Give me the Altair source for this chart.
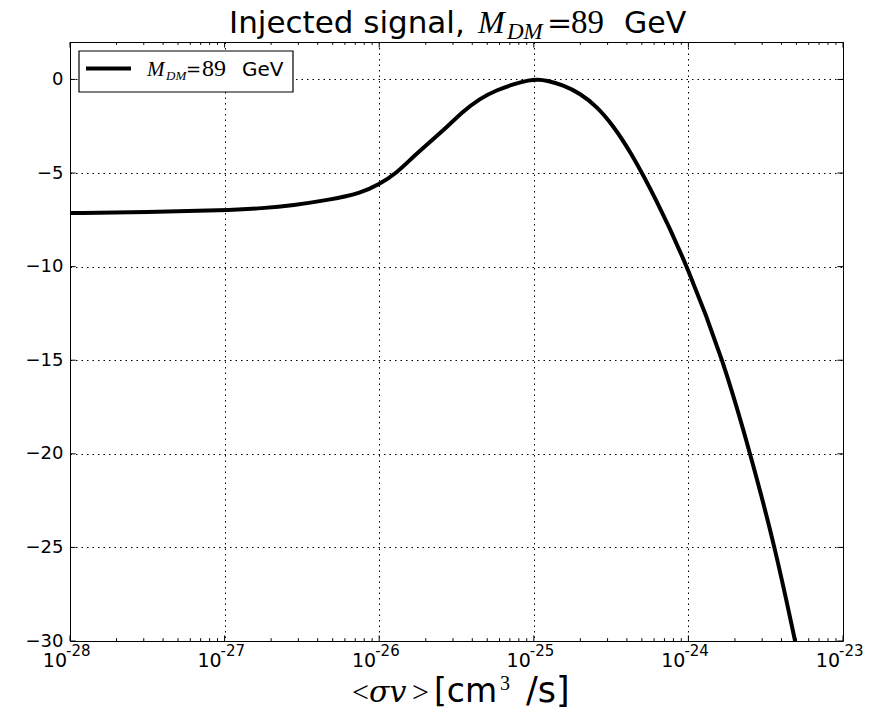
import altair as alt
import pandas as pd

# Signal curve: log10(<sigma v> / cm^3 s^-1) and the signal value
log_sv = [-28.0, -27.5, -27.0, -26.75, -26.56, -26.32, -26.12, -26.0, -25.89,
          -25.78, -25.67, -25.56, -25.46, -25.35, -25.24, -25.13, -25.03, -24.97,
          -24.92, -24.81, -24.70, -24.59, -24.49, -24.38, -24.205,
          -24.005, -23.774, -23.60, -23.44, -23.31]
signal = [-7.14, -7.08, -7.00, -6.88, -6.73, -6.43, -6.08, -5.60, -5.02,
          -4.13, -3.33, -2.53, -1.73, -1.02, -0.57, -0.25, -0.03, 0.0,
          -0.05, -0.30, -0.75, -1.46, -2.44, -3.78, -6.45,
          -10.0, -15.0, -19.98, -24.96, -30.0]

# Axis ticks
decades = [1e-28, 1e-27, 1e-26, 1e-25, 1e-24, 1e-23]
decade_exponents = ["-28", "-27", "-26", "-25", "-24", "-23"]
minor_ticks = [k * d for d in decades[:-1] for k in range(2, 10)]
y_ticks = [-30, -25, -20, -15, -10, -5, 0]

W, H = 773, 599
MAJOR, MINOR = 5.6, 2.8
SANS = "DejaVu Sans"
SERIF = "Liberation Serif"
MATH = "DejaVu Serif"

xscale = alt.Scale(type="log", domain=[1e-28, 1e-23], nice=False)
yscale = alt.Scale(domain=[-30, 2], nice=False, zero=False)

grid_style = dict(grid=True, gridColor="black", gridDash=[1.5, 4], gridWidth=1,
                  gridOpacity=1, ticks=False, domain=False, title=None)
xaxis = alt.Axis(values=decades, labels=False, **grid_style)
yaxis = alt.Axis(values=y_ticks, labelFont=SANS, labelFontSize=18,
                 labelColor="black", labelPadding=7,
                 labelExpr="replace(datum.label, '-', '\u2212')",
                 **grid_style)

df = pd.DataFrame({"sv": [10 ** e for e in log_sv], "val": signal})

curve = alt.Chart(df).mark_line(
    color="black", strokeWidth=4, clip=True, interpolate="basis"
).encode(
    x=alt.X("sv:Q", scale=xscale, axis=xaxis),
    y=alt.Y("val:Q", scale=yscale, axis=yaxis),
)

xmaj = pd.DataFrame({"t": decades, "e": decade_exponents})
xmin = pd.DataFrame({"t": minor_ticks})
ymaj = pd.DataFrame({"t": y_ticks})


def xtick_rules(data, length):
    enc_x = alt.X("t:Q", scale=xscale, axis=xaxis)
    bottom = alt.Chart(data).mark_rule(color="black", strokeWidth=1).encode(
        x=enc_x, y=alt.value(H), y2=alt.value(H - length))
    top = alt.Chart(data).mark_rule(color="black", strokeWidth=1).encode(
        x=enc_x, y=alt.value(0), y2=alt.value(length))
    return [bottom, top]


def ytick_rules(data, length):
    enc_y = alt.Y("t:Q", scale=yscale, axis=yaxis)
    left = alt.Chart(data).mark_rule(color="black", strokeWidth=1).encode(
        y=enc_y, x=alt.value(0), x2=alt.value(length))
    right = alt.Chart(data).mark_rule(color="black", strokeWidth=1).encode(
        y=enc_y, x=alt.value(W), x2=alt.value(W - length))
    return [left, right]


# x tick labels: "10" with a raised exponent
xlab_base = alt.Chart(xmaj).mark_text(
    align="right", baseline="alphabetic", font=SANS, fontSize=19, dx=-3, color="black"
).encode(x=alt.X("t:Q", scale=xscale, axis=xaxis), y=alt.value(625), text=alt.value("10"))
xlab_exp = alt.Chart(xmaj).mark_text(
    align="left", baseline="alphabetic", font=SANS, fontSize=15, dx=-4, color="black"
).encode(x=alt.X("t:Q", scale=xscale, axis=xaxis), y=alt.value(614), text="e:N")


def piece(text, x, y, size, font, style="normal"):
    return alt.Chart(pd.DataFrame({"s": [text]})).mark_text(
        align="left", baseline="alphabetic", font=font, fontSize=size,
        fontStyle=style, color="black"
    ).encode(x=alt.value(x), y=alt.value(y), text="s:N")


# Title: Injected signal, M_DM=89 GeV
title = [
    piece("Injected signal,", 159, -9.3, 31, SANS),
    piece("M", 408, -9.3, 32, SERIF, "italic"),
    piece("DM", 437, -3.3, 23, SERIF, "italic"),
    piece("=", 477, -9.3, 30, MATH),
    piece("89", 501, -9.3, 33, SERIF),
    piece("GeV", 554, -9.3, 30, SANS),
]

# x axis title: <sigma v> [cm^3 /s]
xtitle = [
    piece("<", 282, 660, 30, SERIF),
    piece("σv", 299, 660, 30, MATH, "italic"),
    piece(">", 342, 660, 30, SERIF),
    piece("[cm", 364, 660, 33, SANS),
    piece("3", 430, 648, 20, SERIF),
    piece("/s]", 456, 660, 35, SANS),
]

# Legend box
one = pd.DataFrame({"k": [0]})
legend_box = alt.Chart(one).mark_rect(fill="white", stroke="black", strokeWidth=1.2).encode(
    x=alt.value(9), x2=alt.value(223), y=alt.value(9), y2=alt.value(50))
legend_line = alt.Chart(one).mark_rule(color="black", strokeWidth=4).encode(
    x=alt.value(16), x2=alt.value(61), y=alt.value(26.5))
legend_text = [
    piece("M", 77, 33.7, 21, SERIF, "italic"),
    piece("DM", 96, 37.7, 13, SERIF, "italic"),
    piece("=", 116, 33.7, 18, MATH),
    piece("89", 132, 33.7, 24, SERIF),
    piece("GeV", 172, 33.7, 20, SANS),
]

layers = ([curve]
          + xtick_rules(xmaj, MAJOR) + xtick_rules(xmin, MINOR)
          + ytick_rules(ymaj, MAJOR)
          + [xlab_base, xlab_exp]
          + [legend_box, legend_line] + legend_text
          + title + xtitle)

chart = alt.layer(*layers).properties(
    width=W, height=H,
    padding={"left": 70, "top": 42, "right": 36, "bottom": 72},
    autosize=alt.AutoSizeParams(type="none"),
    background="white",
).configure_view(stroke="black", strokeWidth=1)

chart.save("out.html", embed_options={"renderer": "svg", "actions": False})
